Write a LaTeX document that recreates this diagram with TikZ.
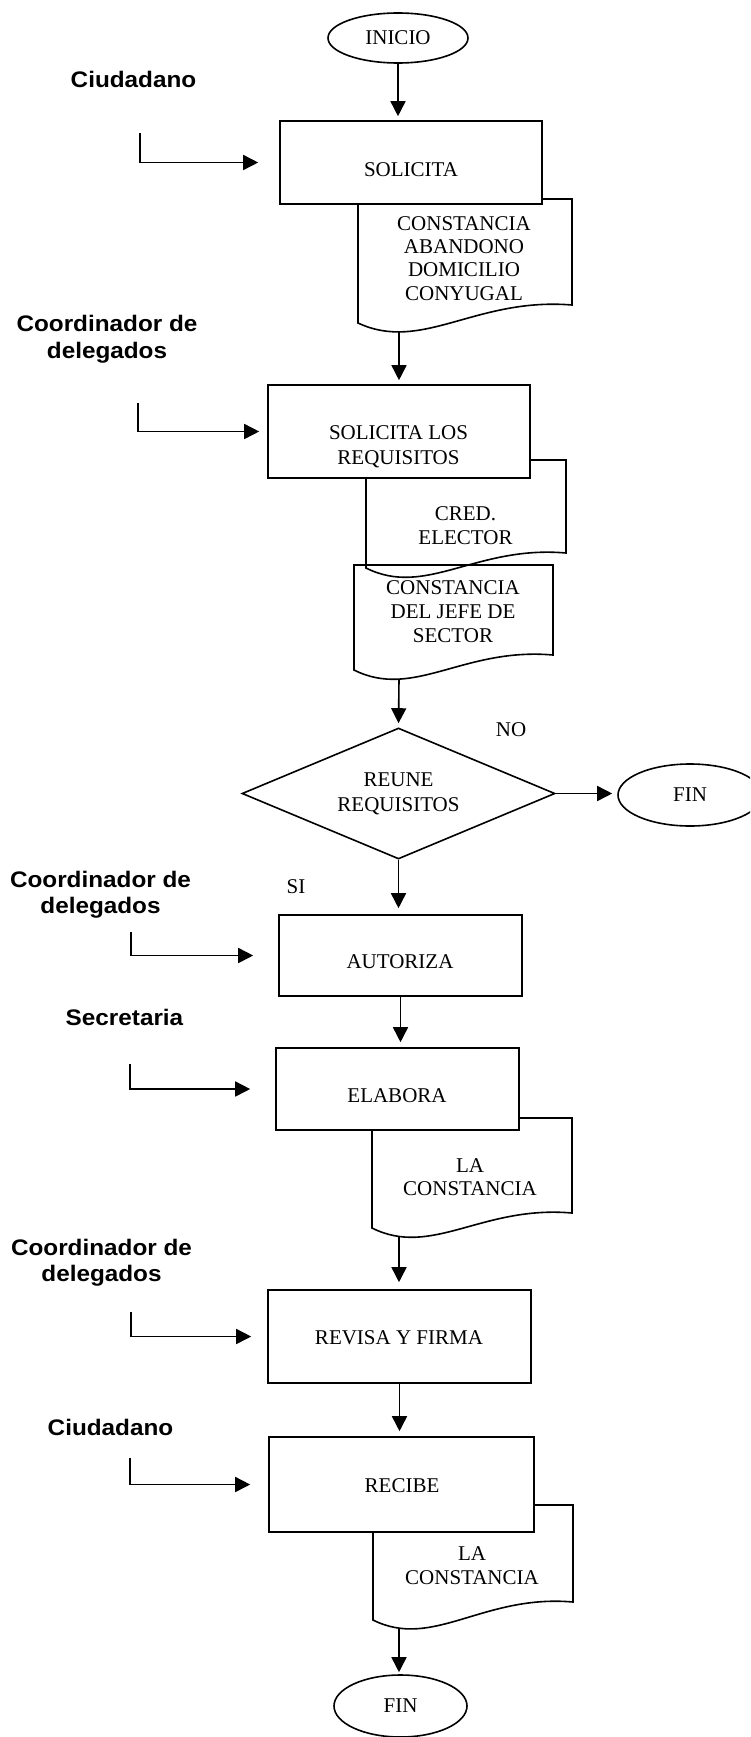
\documentclass[tikz,border=0pt]{standalone}
\usepackage{fontspec}
\setmainfont{Liberation Serif}
\newfontfamily\lblfont{Liberation Sans}[FakeStretch=1.08]
\usetikzlibrary{arrows.meta,shapes.geometric}

% document symbol: left, top, right, bottom-left, bottom-right (wavy bottom edge)
\newcommand\docform[5]{%
  \pgfmathsetmacro\dax{#1+0.3*(#3-#1)}%
  \pgfmathsetmacro\day{#4+30}%
  \pgfmathsetmacro\dbx{#1+0.55*(#3-#1)}%
  \pgfmathsetmacro\dby{#5-8}%
  \draw[flowline] (#1,#2) -- (#1,#4) .. controls (\dax,\day) and (\dbx,\dby) .. (#3,#5) -- (#3,#2) -- cycle;%
}

\begin{document}
\begin{tikzpicture}[x=1pt,y=-1pt,
  flowline/.style={line width=1.6pt, line join=miter},
  arr/.style={flowline, -{Triangle[length=15pt,width=15pt]}, shorten >=4pt},
  stepbox/.style={flowline, draw, fill=white, rectangle, inner sep=0},
  term/.style={flowline, draw, fill=white, ellipse, inner sep=0, font=\fontsize{21}{24}\selectfont},
  txt/.style={anchor=base, align=center, inner sep=0, font=\fontsize{21}{24}\selectfont},
  role/.style={anchor=base, align=center, inner sep=0, font=\lblfont\bfseries\fontsize{22.5}{26.5}\selectfont},
]
\useasboundingbox (0,0) rectangle (750,1737);
\clip (0,0) rectangle (750,1737);

% documents (drawn first, partly covered by the process boxes)
\docform{358}{199}{572}{323}{305}
\docform{366}{460}{566}{568}{553}
\docform{354}{565}{553}{670}{655}
\docform{372}{1118}{572}{1228}{1213}
\docform{373}{1505}{573}{1620}{1602}
\coordinate (d1) at (399,332);
\coordinate (d3) at (399,679);
\coordinate (d4) at (399,1236.5);
\coordinate (d5) at (399,1628.4);

% terminals
\node[term, minimum width=140pt, minimum height=50pt] (inicio) at (398,38) {INICIO};
\node[term, minimum width=144pt, minimum height=62pt] (fin1) at (690,795) {FIN};
\node[term, minimum width=133pt, minimum height=62pt] (fin2) at (400.5,1706) {FIN};

% process boxes
\node[stepbox, minimum width=262pt, minimum height=83pt] (b1) at (411,162.5) {};
\node[stepbox, minimum width=262pt, minimum height=93pt] (b2) at (399,431.5) {};
\node[stepbox, minimum width=243pt, minimum height=81pt] (b3) at (400.5,955.5) {};
\node[stepbox, minimum width=243pt, minimum height=82pt] (b4) at (397.5,1089) {};
\node[stepbox, minimum width=263pt, minimum height=93pt] (b5) at (399.5,1336.5) {};
\node[stepbox, minimum width=265pt, minimum height=95pt] (b6) at (401.5,1484.5) {};

% decision
\node[flowline, draw, diamond, aspect=2.4, inner sep=0, minimum width=313pt, minimum height=131pt,
      align=center, font=\fontsize{21}{25}\selectfont] (dia) at (398.5,793.5) {REUNE\\REQUISITOS};

% texts of boxes and documents (multi-line texts sit on the baseline of their last line)
\node[txt] (t1) at (411,176.5) {SOLICITA};
\node[txt, font=\fontsize{21}{25}\selectfont] (t2) at (398.5,464.5) {SOLICITA LOS\\REQUISITOS};
\node[txt] (t3) at (400,968.5) {AUTORIZA};
\node[txt] (t4) at (397,1102) {ELABORA};
\node[txt] (t5) at (399,1344.5) {REVISA Y FIRMA};
\node[txt] (t6) at (402,1492) {RECIBE};
\node[txt, font=\fontsize{21}{23.3}\selectfont] (dt1) at (464,300) {CONSTANCIA\\ABANDONO\\DOMICILIO\\CONYUGAL};
\node[txt] (dt2) at (465.5,544) {CRED.\\ELECTOR};
\node[txt] (dt3) at (453,642) {CONSTANCIA\\DEL JEFE DE\\SECTOR};
\node[txt, font=\fontsize{21}{23.5}\selectfont] (dt4) at (470,1195.5) {LA\\CONSTANCIA};
\node[txt, font=\fontsize{21}{24.5}\selectfont] (dt5) at (472,1584.5) {LA\\CONSTANCIA};
\node[txt] (no) at (511,736) {NO};
\node[txt] (si) at (296,893.5) {SI};

% roles
\node[role] (r1) at (133.5,88) {Ciudadano};
\node[role] (r2) at (107,358) {Coordinador de\\delegados};
\node[role] (r3) at (100.5,913.5) {Coordinador de\\delegados};
\node[role] (r4) at (124.5,1025) {Secretaria};
\node[role] (r5) at (101.5,1281.5) {Coordinador de\\delegados};
\node[role] (r6) at (110.5,1435) {Ciudadano};

% main flow
\draw[arr] (inicio.south) -- (inicio.south |- b1.north);
\draw[arr] (d1) -- (d1 |- b2.north);
\draw[arr] (d3) -- (dia.north);
\draw[arr, shorten >=5pt] (dia.east) -- (dia.east -| fin1.west);
\draw[arr, shorten >=6pt] (dia.south) -- (dia.south |- b3.north);
\draw[arr, shorten >=5pt] (b3.south) -- (b3.south |- b4.north);
\draw[arr, shorten >=7pt] (d4) -- (d4 |- b5.north);
\draw[arr, shorten >=5pt] (b5.south) -- (b5.south |- b6.north);
\draw[arr, shorten >=2pt] (d5) -- (d5 |- fin2.north);

% role inputs
\coordinate (s1) at (140,133);
\coordinate (s2) at (138,403);
\coordinate (s3) at (131,932);
\coordinate (s4) at (130,1064);
\coordinate (s5) at (131,1312);
\coordinate (s6) at (130,1458);
\draw[arr, shorten >=21pt] (s1) |- (b1.west);
\draw[arr, shorten >=8pt] (s2) |- (b2.west);
\draw[arr, shorten >=25pt] (s3) |- (b3.west);
\draw[arr, shorten >=25pt] (s4) |- (b4.west);
\draw[arr, shorten >=16pt] (s5) |- (b5.west);
\draw[arr, shorten >=18pt] (s6) |- (b6.west);
\end{tikzpicture}
\end{document}
